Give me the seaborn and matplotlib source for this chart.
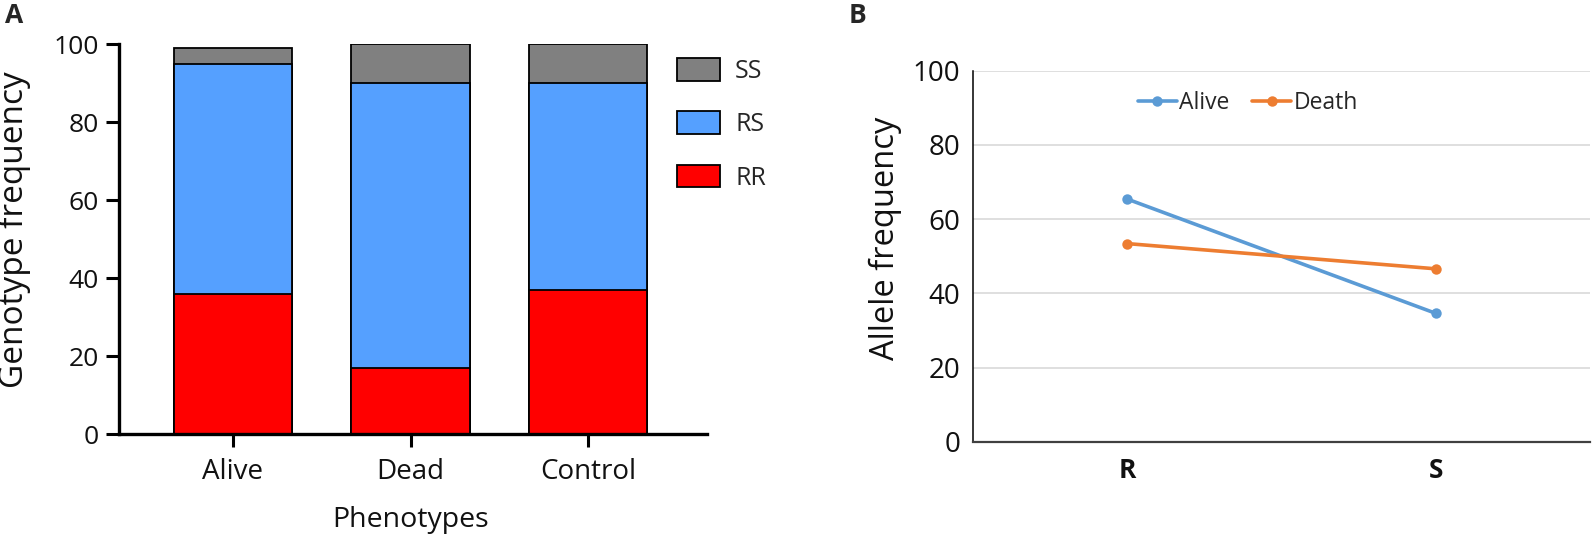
import matplotlib
matplotlib.use('Agg')
import matplotlib.pyplot as plt
from matplotlib.patches import Patch
import numpy as np
import pandas as pd
import seaborn as sns

#style
sns.set_theme(style='white')
plt.rcParams['font.family'] = ['Open Sans', 'DejaVu Sans']

#colours
SS_grey = '#808080'
RS_blue = '#55A0FF'
RR_red = '#FF0000'
alive_blue = '#5B9BD5'
death_orange = '#ED7D31'

#data panel A (genotype frequency, %)
phenotypes = ['Alive', 'Dead', 'Control']
RR = [36, 17, 37]
RS = [59, 73, 53]
SS = [4, 10, 10]

#data panel B (allele frequency, %)
alleles = ['R', 'S']
alive_freq = [65.4, 34.6]
death_freq = [53.4, 46.6]

fig = plt.figure(figsize=(15.92, 5.38), dpi=100)

# ---- panel A : stacked bars ----
axA = fig.add_axes([119/1592, 1-434/538, (707-119)/1592, (434-44)/538])
rr = np.array(RR)
rs_top = rr + np.array(RS)
ss_top = rs_top + np.array(SS)
for top, col in [(ss_top, SS_grey), (rs_top, RS_blue), (rr, RR_red)]:
    sns.barplot(x=phenotypes, y=top, color=col, saturation=1, width=0.665,
                edgecolor='black', linewidth=1.3, ax=axA)
axA.set_xlim(-0.642, 2.67)
axA.set_ylim(0, 100)
axA.set_yticks([0, 20, 40, 60, 80, 100])
sns.despine(ax=axA)
for s in ['left', 'bottom']:
    axA.spines[s].set_linewidth(2.4)
    axA.spines[s].set_color('black')
axA.tick_params(axis='both', direction='out', length=9.4, width=2.2, color='black',
                left=True, bottom=True, labelcolor='#111111')
axA.tick_params(axis='y', labelsize=19, pad=5)
axA.tick_params(axis='x', labelsize=20, pad=8)
axA.set_xlabel('')
axA.set_ylabel('')

#legend
handles = [Patch(facecolor=SS_grey, edgecolor='black', linewidth=1.3),
           Patch(facecolor=RS_blue, edgecolor='black', linewidth=1.3),
           Patch(facecolor=RR_red, edgecolor='black', linewidth=1.3)]
fig.legend(handles, ['SS', 'RS', 'RR'], loc='upper left',
           bbox_to_anchor=(677/1592, 1-58/538), frameon=False, fontsize=18,
           handlelength=1.72, handleheight=1.02, handletextpad=0.6,
           labelspacing=1.1, borderpad=0, borderaxespad=0)

fig.text(14/1592, 1-230/538, 'Genotype frequency', rotation=90,
         ha='center', va='center', fontsize=24, color='#111111')
fig.text(411/1592, 1-520/538, 'Phenotypes', ha='center', va='center',
         fontsize=20.5, color='#111111')
fig.text(5/1592, 1-2/538, 'A', ha='left', va='top', fontsize=19, fontweight='bold')

# ---- panel B : allele lines ----
axB = fig.add_axes([973/1592, 1-441.7/538, (1590-973)/1592, (441.7-70.7)/538])
dfB = pd.DataFrame({'allele': alleles * 2,
                    'freq': alive_freq + death_freq,
                    'group': ['Alive'] * 2 + ['Death'] * 2})
sns.lineplot(data=dfB, x='allele', y='freq', hue='group',
             palette=[alive_blue, death_orange], marker='o', markersize=7.5,
             markeredgewidth=0, linewidth=2.6, ax=axB)
axB.set_xlim(-0.5, 1.5)
axB.set_ylim(0, 100)
axB.set_yticks([0, 20, 40, 60, 80, 100])
axB.grid(axis='y', color='#d9d9d9', linewidth=1.2)
axB.grid(axis='x', visible=False)
axB.set_axisbelow(True)
for s in ['top', 'right']:
    axB.spines[s].set_visible(False)
axB.spines['left'].set_color('black')
axB.spines['left'].set_linewidth(1.1)
axB.spines['bottom'].set_color('#404040')
axB.spines['bottom'].set_linewidth(1.6)
axB.tick_params(axis='both', length=0, labelcolor='#111111')
axB.tick_params(axis='y', labelsize=20, pad=9)
axB.tick_params(axis='x', labelsize=19, pad=11)
for lab in axB.get_xticklabels():
    lab.set_fontweight('bold')
axB.set_xlabel('')
axB.set_ylabel('')
h, l = axB.get_legend_handles_labels()
axB.legend(h, l, loc='center left', bbox_to_anchor=(0.267, 0.913), ncol=2,
           frameon=False, fontsize=16.5, handlelength=1.7, handletextpad=0.1,
           columnspacing=1.0, borderpad=0, borderaxespad=0)

fig.text(885/1592, 1-238/538, 'Allele frequency', rotation=90,
         ha='center', va='center', fontsize=23.5, color='#111111')
fig.text(849/1592, 1-2/538, 'B', ha='left', va='top', fontsize=19, fontweight='bold')

fig.savefig('out.png', dpi=100)
